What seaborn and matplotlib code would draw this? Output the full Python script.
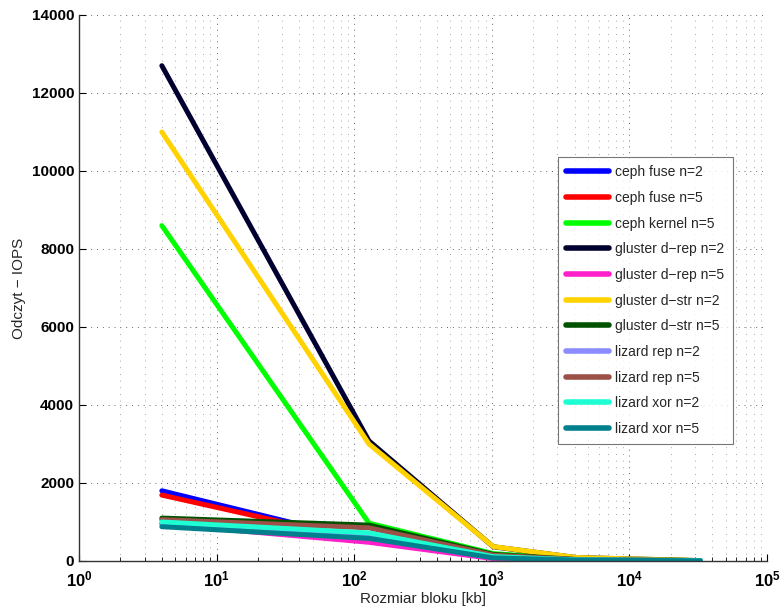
import matplotlib
matplotlib.use("Agg")
import matplotlib.pyplot as plt
import matplotlib.ticker as mticker
import seaborn as sns
import pandas as pd
import numpy as np

block_kb = [4, 128, 1024, 4096, 32768]

series_names = [
    "ceph fuse n=2", "ceph fuse n=5", "ceph kernel n=5",
    "gluster d\u2212rep n=2", "gluster d\u2212rep n=5",
    "gluster d\u2212str n=2", "gluster d\u2212str n=5",
    "lizard rep n=2", "lizard rep n=5",
    "lizard xor n=2", "lizard xor n=5",
]

ceph_fuse_2 = [1800, 500, 110, 30, 8]
ceph_fuse_5 = [1690, 500, 105, 28, 8]
ceph_kernel_5 = [8600, 970, 190, 45, 10]
gluster_drep_2 = [12700, 3080, 365, 88, 10]
gluster_drep_5 = [950, 480, 60, 20, 5]
gluster_dstr_2 = [11000, 3000, 370, 90, 10]
gluster_dstr_5 = [1100, 920, 170, 40, 10]
lizard_rep_2 = [960, 680, 100, 30, 8]
lizard_rep_5 = [1060, 850, 150, 35, 8]
lizard_xor_2 = [1000, 720, 110, 30, 8]
lizard_xor_5 = [880, 580, 80, 25, 5]

all_values = [ceph_fuse_2, ceph_fuse_5, ceph_kernel_5, gluster_drep_2, gluster_drep_5,
              gluster_dstr_2, gluster_dstr_5, lizard_rep_2, lizard_rep_5,
              lizard_xor_2, lizard_xor_5]

colors = ["#0000ff", "#ff0000", "#00ff00", "#000030", "#ff1fcb",
          "#ffd200", "#005200", "#8a8cff", "#9c5048", "#1dffd2", "#00808c"]

rows = []
for name, vals in zip(series_names, all_values):
    for x, v in zip(block_kb, vals):
        rows.append({"block": x, "iops": v, "series": name})
df = pd.DataFrame(rows)

sns.set_theme(style="white")
plt.rcParams["font.family"] = ["Liberation Sans", "DejaVu Sans"]
plt.rcParams["mathtext.fontset"] = "custom"
plt.rcParams["mathtext.bf"] = "Liberation Sans:bold"
plt.rcParams["mathtext.rm"] = "Liberation Sans"

fig = plt.figure(figsize=(7.83, 6.07), dpi=100)
ax = fig.add_axes([79 / 783, 1 - 561 / 607, (767 - 79) / 783, (561 - 15) / 607])

sns.lineplot(data=df, x="block", y="iops", hue="series", hue_order=series_names,
             palette=colors, linewidth=3.6, sort=False, ax=ax, legend=True)

ax.set_xscale("log")
ax.set_xlim(1, 1e5)
ax.set_ylim(0, 14000)
ax.set_yticks(np.arange(0, 14001, 2000))
ax.xaxis.set_major_locator(mticker.LogLocator(base=10, numticks=10))
ax.xaxis.set_minor_locator(mticker.LogLocator(base=10, subs=np.arange(2, 10), numticks=20))
ax.xaxis.set_major_formatter(mticker.FuncFormatter(lambda v, p: r"$\mathbf{10^{%d}}$" % round(np.log10(v))))
ax.xaxis.set_minor_formatter(mticker.NullFormatter())

for lbl in ax.get_yticklabels():
    lbl.set_fontweight("bold")
ax.tick_params(axis="both", which="both", direction="in", labelsize=11, colors="black",
               bottom=True, left=True, top=False, right=False)
ax.tick_params(axis="both", which="major", length=5, width=0.8)
ax.tick_params(axis="x", which="minor", length=3, width=0.6)
ax.tick_params(axis="x", which="major", pad=6, labelsize=12)

ax.grid(True, which="major", axis="both", linestyle=(0, (1, 5)), color="#666666", linewidth=0.7)
ax.grid(True, which="minor", axis="x", linestyle=(0, (1, 7)), color="#888888", linewidth=0.6)

for s in ["top", "right"]:
    ax.spines[s].set_visible(False)
for s in ["left", "bottom"]:
    ax.spines[s].set_color("#333333")
    ax.spines[s].set_linewidth(1.0)

ax.set_xlabel("Rozmiar bloku [kb]", fontsize=11, labelpad=2)
ax.set_ylabel("Odczyt \u2212 IOPS", fontsize=11, labelpad=4)

handles, labels = ax.get_legend_handles_labels()
leg = ax.legend(handles, labels, loc="upper left", bbox_to_anchor=((558 - 79) / 688, 1 - (157 - 15) / 546),
                frameon=True, fontsize=10,
                handlelength=3.1, labelspacing=0.84,
                borderpad=0.6, handletextpad=0.4, borderaxespad=0, fancybox=False, title=None)
leg.get_frame().set_edgecolor("#555555")
leg.get_frame().set_linewidth(0.8)
for h in leg.get_lines():
    h.set_linewidth(4)

fig.savefig("out.png", dpi=100)
